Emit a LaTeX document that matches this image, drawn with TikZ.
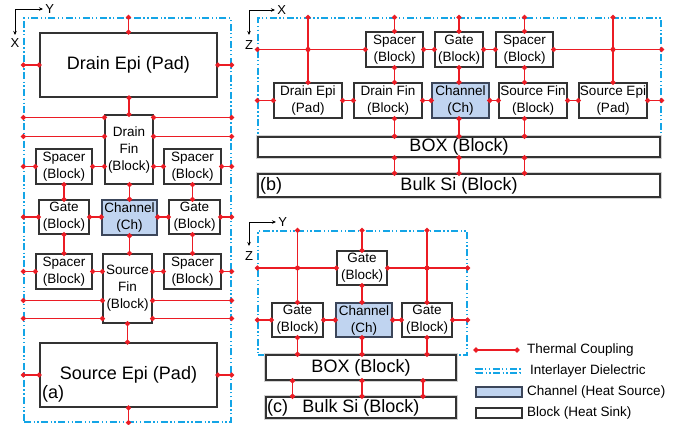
\documentclass[tikz,border=0pt]{standalone}
\usepackage{fontspec}
\setmainfont{Liberation Sans}
\usetikzlibrary{arrows.meta, calc}
\definecolor{cplred}{RGB}{235,28,36}
\definecolor{ildblue}{RGB}{20,165,230}
\definecolor{chfill}{RGB}{192,212,240}
\definecolor{chdraw}{RGB}{60,70,90}
\tikzset{
  tmbase/.style={
    draw=black!80,
    line width=1.1pt,
    align=center,
    inner sep=0pt,
    font=\fontsize{13.5}{17}\selectfont,
  },
  % blocks = heat sinks, channel = heat source
  tmBlock/.style={tmbase, fill=white},
  tmChan/.style={tmbase, draw=chdraw, line width=1.5pt, fill=chfill},
  tmPad/.style={tmbase, fill=white, line width=1.8pt, font=\fontsize{18}{22}\selectfont},
  tmSlab/.style={tmbase, fill=white, line width=1.5pt,
    preaction={draw=gray!35, line width=3.5pt}, font=\fontsize{18}{22}\selectfont},
  tmIld/.style={draw=ildblue, line width=1.3pt, inner sep=0pt,
    dash pattern=on 7pt off 2.5pt on 1.3pt off 2.5pt on 1.3pt off 2.5pt},
  tmCpl/.style={draw=cplred, line width=1.3pt,
    {Circle[length=5pt]}-{Circle[length=5pt]},
    shorten <=-2.5pt, shorten >=-2.5pt},
  tmAx/.style={-{Stealth[length=4pt, width=3.5pt]}, line width=0.8pt},
  tmAxLbl/.style={font=\fontsize{13}{13}\selectfont, inner sep=0pt},
  tmTag/.style={font=\fontsize{18}{18}\selectfont, inner sep=0pt, anchor=west},
  tmLgd/.style={anchor=west, inner sep=0pt, font=\fontsize{13.5}{16}\selectfont},
}
\newcommand{\tmJoint}[1]{\fill[cplred] #1 circle (2.5pt);}

\begin{document}
\begin{tikzpicture}[x=1pt, y=-1pt]
  \useasboundingbox (0,0) rectangle (687,424);

  % ===== (a) top view =====
  \coordinate (axA) at (15,9);
  \draw[tmAx] (axA) -- ++(28,0) node[tmAxLbl, right=2pt] (axAy) {Y};
  \draw[tmAx] (axA) -- ++(0,26) node[tmAxLbl, below=3pt] (axAx) {X};

  \node[tmIld, minimum width=207pt, minimum height=404pt] (ildA) at (127.5,220) {};
  \node[tmPad, minimum width=177pt, minimum height=64pt] (dEpiA) at (128.5,65) {Drain Epi (Pad)};
  \node[tmBlock, minimum width=48pt, minimum height=69pt] (dFinA) at (129,149.5) {Drain\\Fin\\(Block)};
  \node[tmBlock, minimum width=56pt, minimum height=35pt] (spA1) at (64,166.5) {Spacer\\(Block)};
  \node[tmBlock, minimum width=57pt, minimum height=35pt] (spA2) at (192.5,166.5) {Spacer\\(Block)};
  \node[tmBlock, minimum width=50pt, minimum height=34pt] (gtA1) at (64,217) {Gate\\(Block)};
  \node[tmChan, minimum width=55pt, minimum height=35pt] (chA) at (129.5,217.5) {Channel\\(Ch)};
  \node[tmBlock, minimum width=51pt, minimum height=34pt] (gtA2) at (194.5,217) {Gate\\(Block)};
  \node[tmBlock, minimum width=56pt, minimum height=35pt] (spA3) at (64,271.5) {Spacer\\(Block)};
  \node[tmBlock, minimum width=49pt, minimum height=69pt] (sFinA) at (127.5,288.5) {Source\\Fin\\(Block)};
  \node[tmBlock, minimum width=57pt, minimum height=35pt] (spA4) at (192.5,271.5) {Spacer\\(Block)};
  \node[tmPad, minimum width=177pt, minimum height=64pt] (sEpiA) at (128.5,375) {Source Epi (Pad)};
  \node[tmTag] (tagA) at (42,394) {(a)};

  \draw[tmCpl] (dEpiA.north) -- (dEpiA.north |- ildA.north);
  \draw[tmCpl] (dEpiA.west) -- (dEpiA.west -| ildA.west);
  \draw[tmCpl] (dEpiA.east) -- (dEpiA.east -| ildA.east);
  \draw[tmCpl] (dFinA.north |- dEpiA.south) -- (dFinA.north);
  \foreach \dy in {3,22} {
    \coordinate (fl\dy) at ($(dFinA.north west)+(0,\dy)$);
    \coordinate (fr\dy) at ($(dFinA.north east)+(0,\dy)$);
    \draw[tmCpl] (fl\dy) -- (fl\dy -| ildA.west);
    \draw[tmCpl] (fr\dy) -- (fr\dy -| ildA.east);
  }
  \draw[tmCpl] (spA1.west) -- (spA1.west -| ildA.west);
  \draw[tmCpl] (spA1.east) -- (spA1.east -| dFinA.west);
  \draw[tmCpl] (spA2.west -| dFinA.east) -- (spA2.west);
  \draw[tmCpl] (spA2.east) -- (spA2.east -| ildA.east);
  \draw[tmCpl] (spA1.south) -- (spA1.south |- gtA1.north);
  \draw[tmCpl] (chA.north |- dFinA.south) -- (chA.north);
  \draw[tmCpl] (spA2.south) -- (spA2.south |- gtA2.north);

  \draw[tmCpl] (gtA1.west) -- (gtA1.west -| ildA.west);
  \draw[tmCpl] (gtA1.east) -- (gtA1.east -| chA.west);
  \draw[tmCpl] (gtA2.west -| chA.east) -- (gtA2.west);
  \draw[tmCpl] (gtA2.east) -- (gtA2.east -| ildA.east);
  \draw[tmCpl] (gtA1.south) -- (gtA1.south |- spA3.north);
  \draw[tmCpl] (chA.south) -- (chA.south |- sFinA.north);
  \draw[tmCpl] (spA4.north |- gtA2.south) -- (spA4.north);

  \draw[tmCpl] (spA3.west) -- (spA3.west -| ildA.west);
  \draw[tmCpl] (spA3.east) -- (spA3.east -| sFinA.west);
  \draw[tmCpl] (spA4.west -| sFinA.east) -- (spA4.west);
  \draw[tmCpl] (spA4.east) -- (spA4.east -| ildA.east);
  \foreach \dy in {5,23} {
    \coordinate (gl\dy) at ($(sFinA.south west)+(0,-\dy)$);
    \coordinate (gr\dy) at ($(sFinA.south east)+(0,-\dy)$);
    \draw[tmCpl] (gl\dy) -- (gl\dy -| ildA.west);
    \draw[tmCpl] (gr\dy) -- (gr\dy -| ildA.east);
  }
  \draw[tmCpl] (sFinA.south) -- (sFinA.south |- sEpiA.north);
  \draw[tmCpl] (sEpiA.west) -- (sEpiA.west -| ildA.west);
  \draw[tmCpl] (sEpiA.east) -- (sEpiA.east -| ildA.east);
  \draw[tmCpl] (sEpiA.south) -- (sEpiA.south |- ildA.south);

  % ===== (b) side cut along X =====
  \coordinate (axB) at (249,10);
  \draw[tmAx] (axB) -- ++(26,0) node[tmAxLbl, right=2pt] (axBx) {X};
  \draw[tmAx] (axB) -- ++(0,25) node[tmAxLbl, below=5pt] (axBz) {Z};

  \node[tmIld, minimum width=403pt, minimum height=119pt] (ildB) at (459.5,77.5) {};
  \node[tmBlock, minimum width=57pt, minimum height=35pt] (spB1) at (394.5,49.5) {Spacer\\(Block)};
  \node[tmBlock, minimum width=48pt, minimum height=35pt] (gtB) at (459,49.5) {Gate\\(Block)};
  \node[tmBlock, minimum width=57pt, minimum height=35pt] (spB2) at (524.5,49.5) {Spacer\\(Block)};
  \node[tmBlock, minimum width=68pt, minimum height=35pt] (dEpiB) at (308,100.5) {Drain Epi\\(Pad)};
  \node[tmBlock, minimum width=68pt, minimum height=35pt] (dFinB) at (388,100.5) {Drain Fin\\(Block)};
  \node[tmChan, minimum width=57pt, minimum height=35pt] (chB) at (460.5,100.5) {Channel\\(Ch)};
  \node[tmBlock, minimum width=68pt, minimum height=35pt] (sFinB) at (533,100.5) {Source Fin\\(Block)};
  \node[tmBlock, minimum width=68pt, minimum height=35pt] (sEpiB) at (613,100.5) {Source Epi\\(Pad)};
  \node[tmSlab, minimum width=402pt, minimum height=20pt] (boxB) at (459,147) {BOX (Block)};
  \node[tmSlab, minimum width=402pt, minimum height=23pt] (bulkB) at (459,185.5) {Bulk Si (Block)};
  \node[tmTag] (tagB) at (260,185.5) {(b)};

  \draw[tmCpl] (spB1.west -| ildB.west) -- (spB1.west);
  \draw[tmCpl] (spB2.east) -- (spB2.east -| ildB.east);
  \draw[tmCpl] (dEpiB.north |- ildB.north) -- (dEpiB.north);
  \draw[tmCpl] (sEpiB.north |- ildB.north) -- (sEpiB.north);
  \tmJoint{(dEpiB.north |- spB1.west)}
  \tmJoint{(sEpiB.north |- spB2.east)}
  \foreach \n in {spB1, gtB, spB2}
    \draw[tmCpl] (\n.north) -- (\n.north |- ildB.north);
  \draw[tmCpl] (spB1.east) -- (gtB.west);
  \draw[tmCpl] (gtB.east) -- (spB2.west);
  \draw[tmCpl] (spB1.south) -- (spB1.south |- dFinB.north);
  \draw[tmCpl] (gtB.south) -- (gtB.south |- chB.north);
  \draw[tmCpl] (spB2.south) -- (spB2.south |- sFinB.north);

  \draw[tmCpl] (dEpiB.west -| ildB.west) -- (dEpiB.west);
  \draw[tmCpl] (dEpiB.east) -- (dFinB.west);
  \draw[tmCpl] (dFinB.east) -- (chB.west);
  \draw[tmCpl] (chB.east) -- (sFinB.west);
  \draw[tmCpl] (sFinB.east) -- (sEpiB.west);
  \draw[tmCpl] (sEpiB.east) -- (sEpiB.east -| ildB.east);

  \draw[tmCpl] (spB1.south |- dFinB.south) -- (spB1.south |- boxB.north);
  \draw[tmCpl] (gtB.south |- chB.south) -- (gtB.south |- boxB.north);
  \draw[tmCpl] (spB2.south |- sFinB.south) -- (spB2.south |- boxB.north);
  \foreach \n in {spB1, gtB, spB2}
    \draw[tmCpl] (\n.south |- boxB.south) -- (\n.south |- bulkB.north);

  % ===== (c) side cut along Y =====
  \coordinate (axC) at (249,222);
  \draw[tmAx] (axC) -- ++(27,0) node[tmAxLbl, right=2pt] (axCy) {Y};
  \draw[tmAx] (axC) -- ++(0,24) node[tmAxLbl, below=5pt] (axCz) {Z};

  \node[tmIld, minimum width=209pt, minimum height=124pt] (ildC) at (362.5,293) {};
  \node[tmBlock, minimum width=50pt, minimum height=34pt] (gtCT) at (362,268) {Gate\\(Block)};
  \node[tmBlock, minimum width=51pt, minimum height=34pt] (gtCL) at (297.5,320) {Gate\\(Block)};
  \node[tmChan, minimum width=56pt, minimum height=34pt] (chC) at (364,320) {Channel\\(Ch)};
  \node[tmBlock, minimum width=50pt, minimum height=34pt] (gtCR) at (427,320) {Gate\\(Block)};
  \node[tmSlab, minimum width=190pt, minimum height=25pt] (boxC) at (361,367.5) {BOX (Block)};
  \node[tmSlab, minimum width=190pt, minimum height=21pt] (bulkC) at (361,407.5) {Bulk Si (Block)};
  \node[tmTag] (tagC) at (267,407.5) {(c)};

  \draw[tmCpl] (gtCT.west -| ildC.west) -- (gtCT.west);
  \draw[tmCpl] (gtCT.east) -- (gtCT.east -| ildC.east);
  \draw[tmCpl] (gtCL.north |- ildC.north) -- (gtCL.north);
  \draw[tmCpl] (gtCR.north |- ildC.north) -- (gtCR.north);
  \tmJoint{(gtCL.north |- gtCT.west)}
  \tmJoint{(gtCR.north |- gtCT.east)}
  \draw[tmCpl] (gtCT.north) -- (gtCT.north |- ildC.north);
  \draw[tmCpl] (gtCT.south) -- (gtCT.south |- chC.north);

  \draw[tmCpl] (gtCL.west -| ildC.west) -- (gtCL.west);
  \draw[tmCpl] (gtCL.east) -- (chC.west);
  \draw[tmCpl] (chC.east) -- (gtCR.west);
  \draw[tmCpl] (gtCR.east) -- (gtCR.east -| ildC.east);

  \draw[tmCpl] (gtCL.south) -- (gtCL.south |- boxC.north);
  \draw[tmCpl] (gtCT.south |- chC.south) -- (gtCT.south |- boxC.north);
  \draw[tmCpl] (gtCR.south) -- (gtCR.south |- boxC.north);
  \coordinate (bc1) at ($(gtCL.south |- boxC.south)+(-5,0)$);
  \coordinate (bc2) at (gtCT.south |- boxC.south);
  \coordinate (bc3) at ($(gtCR.south |- boxC.south)+(-4,0)$);
  \foreach \c in {bc1, bc2, bc3}
    \draw[tmCpl] (\c) -- (\c |- bulkC.north);

  % ===== legend =====
  \coordinate (lgA) at (476,350);
  \coordinate (lgB) at (517,350);
  \draw[tmCpl] (lgA) -- (lgB);
  \node[tmLgd] (lgT1) at (527,350) {Thermal Coupling};
  \node[tmIld, minimum width=44pt, minimum height=4pt] (lgIld) at (498,371) {};
  \node[tmLgd] (lgT2) at (530,370.5) {Interlayer Dielectric};
  \node[tmChan, minimum width=46pt, minimum height=10pt] (lgCh) at (499,392) {};
  \node[tmLgd] (lgT3) at (527,392) {Channel (Heat Source)};
  \node[tmBlock, minimum width=46pt, minimum height=10pt] (lgBk) at (499,413) {};
  \node[tmLgd] (lgT4) at (527,413) {Block (Heat Sink)};
\end{tikzpicture}
\end{document}
